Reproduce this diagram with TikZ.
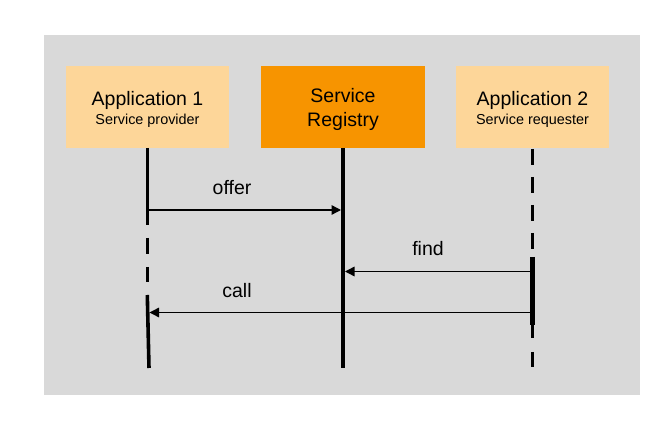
\documentclass[tikz,border=0pt]{standalone}
\usepackage{fontspec}
\setmainfont{Liberation Sans}
\usetikzlibrary{arrows.meta}
\definecolor{bggray}{HTML}{D9D9D9}
\definecolor{lightor}{HTML}{FDD699}
\definecolor{darkor}{HTML}{F79400}
\begin{document}
\begin{tikzpicture}[x=1pt,y=-1pt,
  box/.style={draw=none,minimum height=82pt,inner sep=0pt,align=center,
    font=\fontsize{19.5}{21}\selectfont},
  life/.style={line width=3.6pt},
  lifedash/.style={line width=3.2pt,dash pattern=on 16pt off 12pt},
  msg/.style={line width=1.4pt,-{Triangle[length=9.5pt,width=9.5pt]}},
  lbl/.style={font=\fontsize{19.5}{21}\selectfont,inner sep=0pt}]
\useasboundingbox (0,0) rectangle (662,438);
\fill[white] (0,0) rectangle (662,438);
\fill[bggray] (44,35) rectangle (640,395);

\node[box,fill=lightor,minimum width=163pt] (app1) at (147.5,107)
  {\rule{0pt}{18.6pt}Application 1\\[-2pt]{\fontsize{14.4}{16}\selectfont Service provider}};
\node[box,fill=darkor,minimum width=164pt,font=\fontsize{19.5}{24}\selectfont] (reg) at (343,107)
  {\rule{0pt}{19.4pt}Service\\Registry};
\node[box,fill=lightor,minimum width=153pt] (app2) at (532.5,107)
  {\rule{0pt}{18.6pt}Application 2\\[-2pt]{\fontsize{14.4}{16}\selectfont Service requester}};

% lifeline coordinates
\coordinate (a1top) at (147.3,148);
\coordinate (a1s1) at (147.3,225);
\coordinate (a1d1) at (147.3,238);
\coordinate (a1d2) at (147.3,282);
\coordinate (a1s2) at (147.3,295);
\coordinate (a1bot) at (149,368);
\coordinate (regtop) at (343,148);
\coordinate (regbot) at (343,368);
\coordinate (a2top) at (532.5,149);
\coordinate (a2d) at (532.5,250);
\coordinate (a2s1) at (532.5,257);
\coordinate (a2s2) at (532.5,325);
\coordinate (a2e) at (532.5,338);
\coordinate (a2f) at (532.5,352);
\coordinate (a2bot) at (532.5,367);

\draw[life] (a1top) -- (a1s1);
\draw[lifedash,dash pattern=on 16pt off 13pt] (a1d1) -- (a1d2);
\draw[life] (a1s2) -- (a1bot);
\draw[line width=4.6pt] (regtop) -- (regbot);
\draw[lifedash] (a2top) -- (a2d);
\draw[line width=4.4pt] (a2s1) -- (a2s2);
\draw[line width=3.2pt] (a2s2) -- (a2e);
\draw[line width=3.2pt] (a2f) -- (a2bot);

% messages
\coordinate (offS) at (149,210);
\coordinate (offE) at (341,210);
\coordinate (findS) at (531,271.5);
\coordinate (findE) at (345,271.5);
\coordinate (callS) at (531,312.5);
\coordinate (callE) at (149.5,312.5);
\draw[msg] (offS) -- (offE);
\draw[msg] (findS) -- (findE);
\draw[msg] (callS) -- (callE);

\node[lbl] (offer) at (232,188) {offer};
\node[lbl] (find) at (428,249) {find};
\node[lbl] (call) at (237,291) {call};
\end{tikzpicture}
\end{document}
